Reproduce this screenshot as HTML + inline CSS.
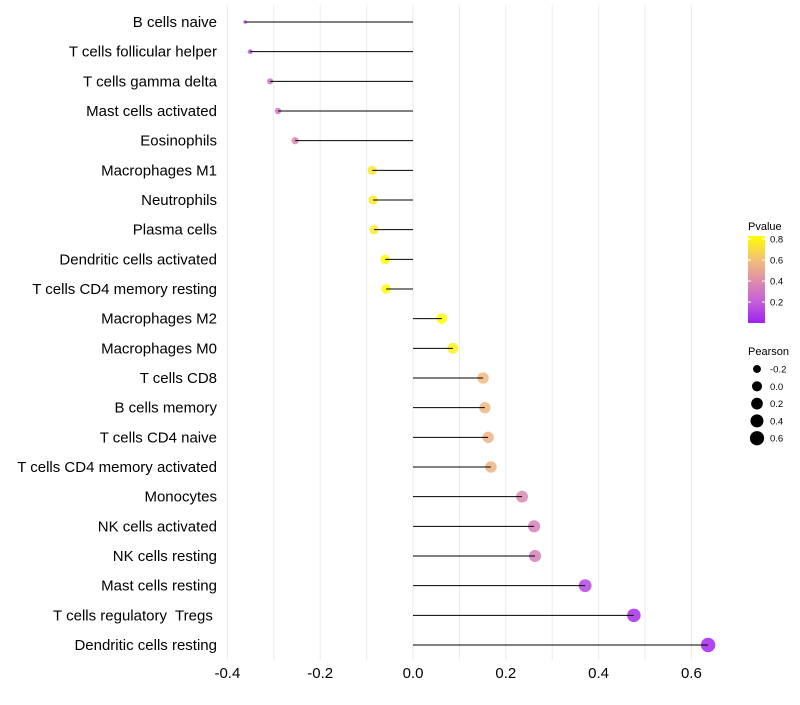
<!DOCTYPE html>
<html><head><meta charset="utf-8"><style>
body{margin:0;background:#fff;font-family:"Liberation Sans",sans-serif}
text{white-space:pre}
</style></head><body>
<svg id="c" width="800" height="700" xmlns="http://www.w3.org/2000/svg"></svg>
<script>
const categories=["B cells naive","T cells follicular helper","T cells gamma delta","Mast cells activated","Eosinophils","Macrophages M1","Neutrophils","Plasma cells","Dendritic cells activated","T cells CD4 memory resting","Macrophages M2","Macrophages M0","T cells CD8","B cells memory","T cells CD4 naive","T cells CD4 memory activated","Monocytes","NK cells activated","NK cells resting","Mast cells resting","T cells regulatory  Tregs ","Dendritic cells resting"];
const pearson=[-0.362,-0.351,-0.308,-0.291,-0.254,-0.088,-0.086,-0.084,-0.060,-0.058,0.062,0.086,0.151,0.155,0.162,0.168,0.235,0.261,0.263,0.371,0.476,0.636];
const pvalue=[0.15,0.17,0.28,0.3,0.36,0.75,0.75,0.75,0.82,0.82,0.82,0.78,0.58,0.57,0.56,0.55,0.38,0.34,0.34,0.12,0.04,0.02];
const xTicks=[-0.4,-0.2,0.0,0.2,0.4,0.6];
const xTickLabels=["-0.4","-0.2","0.0","0.2","0.4","0.6"];
const pTicks=[0.2,0.4,0.6,0.8];
const sizeTicks=[-0.2,0.0,0.2,0.4,0.6];

const svg=document.getElementById('c');const NS="http://www.w3.org/2000/svg";
function mk(t,a,p){const e=document.createElementNS(NS,t);for(const k in a)e.setAttribute(k,a[k]);(p||svg).appendChild(e);return e;}
const x=v=>413+v*464;
const y=i=>22+i*(623/21);
const r=v=>1.8+5.4*Math.sqrt(Math.max(0,(v+0.362)/0.998));
const stops=[[0,[160,32,240]],[0.2,[195,95,215]],[0.4,[222,140,170]],[0.6,[243,190,120]],[0.83,[255,255,0]]];
function col(p){p=Math.min(0.83,Math.max(0,p));for(let i=0;i<stops.length-1;i++){const[a,ca]=stops[i],[b,cb]=stops[i+1];if(p<=b){const t=(p-a)/(b-a);return`rgb(${ca.map((c,j)=>Math.round(c+(cb[j]-c)*t)).join(',')})`;}}return'rgb(255,255,0)';}
for(let g=-0.4;g<=0.65;g+=0.1){const l=mk('line',{x1:x(g),x2:x(g),y1:5,y2:660,stroke:'#ebebeb','stroke-width':1});

}
categories.forEach((c,i)=>{
 const t=mk('text',{x:217,y:y(i)+5,'text-anchor':'end','font-size':15,fill:'#000'});t.textContent=c;
 
 
 const pt=mk('circle',{cx:x(pearson[i]),cy:y(i),r:r(pearson[i]),fill:col(pvalue[i]),'fill-opacity':0.85});
 
 
 const s=mk('line',{x1:x(0),x2:x(pearson[i]),y1:y(i),y2:y(i),stroke:'#000','stroke-width':1});
 
 
});
xTicks.forEach((v,i)=>{const t=mk('text',{x:x(v),y:678,'text-anchor':'middle','font-size':15,fill:'#000'});t.textContent=xTickLabels[i];

});
const lt=mk('text',{x:748,y:230,'font-size':11,fill:'#000'});lt.textContent='Pvalue';


const defs=mk('defs',{});const lg=mk('linearGradient',{id:'gr',x1:0,y1:1,x2:0,y2:0},defs);
stops.forEach(([p,c])=>mk('stop',{offset:(p/0.83),'stop-color':`rgb(${c.join(',')})`},lg));
const bar=mk('rect',{x:748,y:236,width:17,height:87,fill:'url(#gr)'});


const py=p=>323-(p/0.83)*87;
pTicks.forEach(p=>{mk('line',{x1:748,x2:751,y1:py(p),y2:py(p),stroke:'#fff'});mk('line',{x1:762,x2:765,y1:py(p),y2:py(p),stroke:'#fff'});
 const t=mk('text',{x:770,y:py(p)+3.5,'font-size':9.5,fill:'#000'});t.textContent=p.toFixed(1);
 
 });
const st=mk('text',{x:748,y:355,'font-size':11,fill:'#000'});st.textContent='Pearson';


sizeTicks.forEach((v,i)=>{const cy=369+i*17.3;const c=mk('circle',{cx:757,cy:cy,r:r(v),fill:'#000'});
 
 
 const t=mk('text',{x:770,y:cy+3.5,'font-size':9.5,fill:'#000'});t.textContent=v.toFixed(1);
 
 });
</script>
</body></html>
